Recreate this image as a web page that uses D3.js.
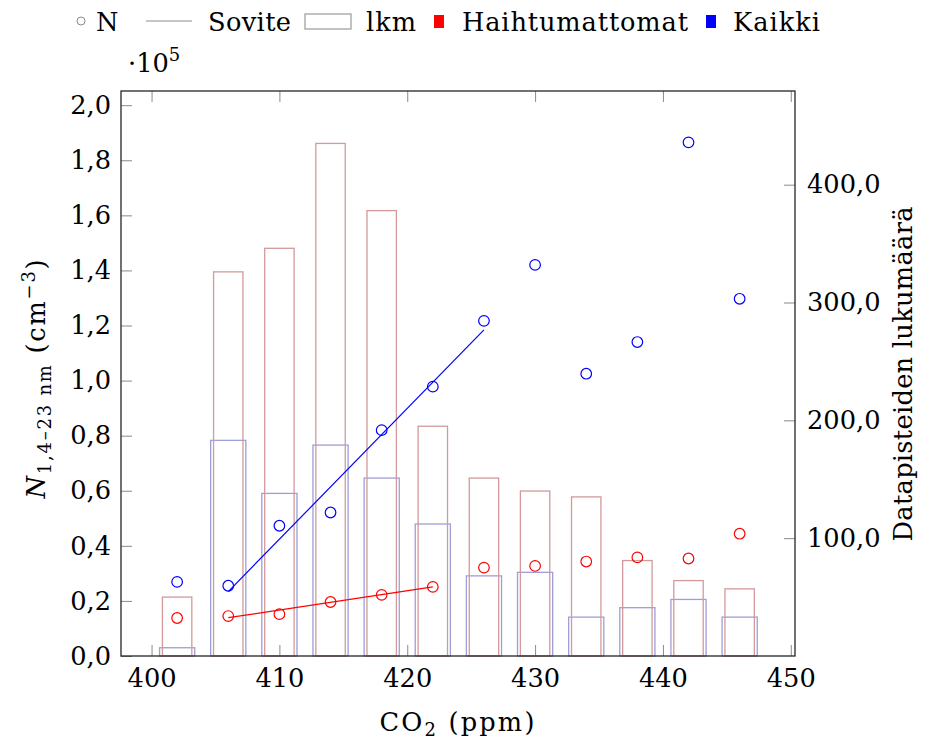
<!DOCTYPE html>
<html>
<head>
<meta charset="utf-8">
<script src="https://cdn.jsdelivr.net/npm/d3@7"></script>
<style>
  html, body { margin: 0; padding: 0; background: #fff; }
  svg { display: block; }
</style>
</head>
<body>
<svg id="chart" width="929" height="742"></svg>
<script>
// CO2 bin centres (ppm)
const co2 = [402, 406, 410, 414, 418, 422, 426, 430, 434, 438, 442, 446];

// Mean particle concentration N (cm^-3) per bin
const nKaikki = [26900, 25500, 47300, 52100, 82000, 97800, 121700, 142000, 102500, 114000, 186500, 129700];
const nHaihtumattomat = [13800, 14500, 15200, 19600, 22200, 25100, 32100, 32700, 34300, 35800, 35400, 44400];

// Number of data points per bin (lkm)
const lkmHaihtumattomat = [50, 326, 346, 435, 378, 195, 151, 140, 135, 81, 64, 57];
const lkmKaikki = [7, 183, 138, 179, 151, 112, 68, 71, 33, 41, 48, 33];

// Linear fits (end points)
const fitKaikkiX = [406, 426];
const fitKaikkiY = [23400, 118400];
const fitHaihtX = [406, 422];
const fitHaihtY = [13900, 25100];

// Tick values
const xTicks = [400, 410, 420, 430, 440, 450];
const yLeftTicks = [0, 20000, 40000, 60000, 80000, 100000, 120000, 140000, 160000, 180000, 200000];
const yRightTicks = [100, 200, 300, 400];

// Serif font stack; size chosen so that three digits are about 49 px wide
const fontCss = `"DejaVu Serif", "Noto Serif", "Liberation Serif", "Times New Roman", serif`;
const ctx0 = document.createElement("canvas").getContext("2d");
ctx0.font = `100px ${fontCss}`;
const digitW = ctx0.measureText("400").width / 100;
const FS = Math.min(31, 49 / digitW);     // main font size
const FSS = FS * 0.7;                      // sub/superscript size

const svg = d3.select("#chart").style("font-family", fontCss);
const L = 121, R = 795, T = 91, B = 656;

const x = d3.scaleLinear().domain([397.61, 450.33]).range([L, R]);
const yL = d3.scaleLinear().domain([0, 205150]).range([B, T]);
const yR = d3.scaleLinear().domain([0, 479.5]).range([B, T]);

const comma = v => v.replace(".", ",");
const fmt1 = d3.format(".1f");

const redBar = "#d29a9a", blueBar = "#9e9ed8";
const tickGrey = "#8a8a8a";

// Bars: number of data points per bin (right axis)
const gBars = svg.append("g");
const blueW = 2.75, redW = 2.3;
gBars.selectAll("rect.kaikki").data(co2).join("rect")
  .attr("class", "kaikki")
  .attr("x", (d) => x(d - blueW / 2))
  .attr("width", (d) => x(d + blueW / 2) - x(d - blueW / 2))
  .attr("y", (d, i) => yR(lkmKaikki[i]))
  .attr("height", (d, i) => yR(0) - yR(lkmKaikki[i]))
  .attr("fill", "none").attr("stroke", blueBar).attr("stroke-width", 1.3);
gBars.selectAll("rect.haiht").data(co2).join("rect")
  .attr("class", "haiht")
  .attr("x", (d) => x(d - redW / 2))
  .attr("width", (d) => x(d + redW / 2) - x(d - redW / 2))
  .attr("y", (d, i) => yR(lkmHaihtumattomat[i]))
  .attr("height", (d, i) => yR(0) - yR(lkmHaihtumattomat[i]))
  .attr("fill", "none").attr("stroke", redBar).attr("stroke-width", 1.3);

// Axes
const axL = d3.axisLeft(yL).tickValues(yLeftTicks).tickSizeInner(-11).tickSizeOuter(0)
  .tickPadding(10).tickFormat(d => comma(fmt1(d / 1e5)));
const axB = d3.axisBottom(x).tickValues(xTicks).tickSizeInner(-11).tickSizeOuter(0)
  .tickPadding(13).tickFormat(d3.format("d"));
const axT = d3.axisTop(x).tickValues(xTicks).tickSizeInner(-11).tickSizeOuter(0).tickFormat("");
const axR = d3.axisRight(yR).tickValues(yRightTicks).tickSizeInner(-11).tickSizeOuter(0)
  .tickPadding(12).tickFormat(d => comma(fmt1(d)));

function styleAxis(g) {
  g.attr("font-family", null).attr("font-size", null);
  g.select(".domain").remove();
  g.selectAll(".tick line").attr("stroke", tickGrey).attr("stroke-width", 1);
  g.selectAll(".tick text").attr("font-size", FS).attr("fill", "#000");
}
svg.append("g").attr("transform", `translate(${L},0)`).call(axL).call(styleAxis);
svg.append("g").attr("transform", `translate(0,${B})`).call(axB).call(styleAxis);
svg.append("g").attr("transform", `translate(0,${T})`).call(axT).call(styleAxis);
svg.append("g").attr("transform", `translate(${R},0)`).call(axR).call(styleAxis);

// Frame
svg.append("rect").attr("x", L).attr("y", T).attr("width", R - L).attr("height", B - T)
  .attr("fill", "none").attr("stroke", "#262626").attr("stroke-width", 1.3);

// Fit lines
const line = d3.line().x(d => x(d[0])).y(d => yL(d[1]));
svg.append("path").attr("d", line(fitKaikkiX.map((v, i) => [v, fitKaikkiY[i]])))
  .attr("fill", "none").attr("stroke", "#0000ff").attr("stroke-width", 1.2);
svg.append("path").attr("d", line(fitHaihtX.map((v, i) => [v, fitHaihtY[i]])))
  .attr("fill", "none").attr("stroke", "#ff0000").attr("stroke-width", 1.2);

// Points
svg.append("g").selectAll("circle").data(co2).join("circle")
  .attr("cx", d => x(d)).attr("cy", (d, i) => yL(nKaikki[i])).attr("r", 5.3)
  .attr("fill", "none").attr("stroke", "#0000ff").attr("stroke-width", 1.2);
svg.append("g").selectAll("circle").data(co2).join("circle")
  .attr("cx", d => x(d)).attr("cy", (d, i) => yL(nHaihtumattomat[i])).attr("r", 5.3)
  .attr("fill", "none").attr("stroke", "#ff0000").attr("stroke-width", 1.2);

// Spread a multi-part label so that it spans the given width
function fitWidth(textSel, target) {
  const node = textSel.node();
  const len = node.getComputedTextLength();
  const n = node.textContent.length;
  if (n > 1) textSel.attr("letter-spacing", Math.max(0, (target - len) / (n - 1)));
}

// Scale multiplier above left axis
const mult = svg.append("text").attr("x", 128).attr("y", 72).attr("font-size", FS);
mult.append("tspan").text("\u00b710");
mult.append("tspan").attr("font-size", FSS).attr("dy", -FS * 0.43).text("5");

// Axis titles
const xt = svg.append("text").attr("x", 458).attr("y", 731).attr("text-anchor", "middle")
  .attr("font-size", FS);
xt.append("tspan").text("CO");
xt.append("tspan").attr("font-size", FSS).attr("dy", FS * 0.2).text("2");
xt.append("tspan").attr("dy", -FS * 0.2).text(" (ppm)");
fitWidth(xt, 155);

const yt = svg.append("text").attr("transform", "translate(45,378) rotate(-90)")
  .attr("text-anchor", "middle").attr("font-size", FS);
yt.append("tspan").attr("font-style", "italic").text("N");
yt.append("tspan").attr("font-size", FSS).attr("dy", FS * 0.23).text("1,4\u201323 nm");
yt.append("tspan").attr("dy", -FS * 0.23).text(" (cm");
yt.append("tspan").attr("font-size", FSS).attr("dy", -FS * 0.4).text("\u22123");
yt.append("tspan").attr("dy", FS * 0.4).text(")");
fitWidth(yt, 239);

svg.append("text").attr("transform", "translate(912,374) rotate(-90)")
  .attr("text-anchor", "middle").attr("font-size", FS)
  .attr("textLength", 335).attr("lengthAdjust", "spacing")
  .text("Datapisteiden lukumäärä");

// Legend
const lg = svg.append("g");
const ly = 31, lc = 21;
lg.append("circle").attr("cx", 81).attr("cy", lc).attr("r", 4)
  .attr("fill", "none").attr("stroke", "#8c8c8c").attr("stroke-width", 1);
lg.append("text").attr("x", 96).attr("y", ly).attr("font-size", FS).text("N");
lg.append("line").attr("x1", 146).attr("x2", 192).attr("y1", lc).attr("y2", lc)
  .attr("stroke", "#8c8c8c").attr("stroke-width", 1);
lg.append("text").attr("x", 208).attr("y", ly).attr("font-size", FS)
  .attr("textLength", 83).attr("lengthAdjust", "spacing").text("Sovite");
lg.append("rect").attr("x", 305).attr("y", 14).attr("width", 46).attr("height", 15)
  .attr("fill", "#fff").attr("stroke", "#9a9a9a").attr("stroke-width", 1.2);
lg.append("text").attr("x", 366).attr("y", ly).attr("font-size", FS)
  .attr("textLength", 50).attr("lengthAdjust", "spacing").text("lkm");
lg.append("rect").attr("x", 434).attr("y", 15).attr("width", 10).attr("height", 13).attr("fill", "#ff0000");
lg.append("text").attr("x", 462).attr("y", ly).attr("font-size", FS)
  .attr("textLength", 226).attr("lengthAdjust", "spacing").text("Haihtumattomat");
lg.append("rect").attr("x", 706).attr("y", 15).attr("width", 10).attr("height", 13).attr("fill", "#0000ff");
lg.append("text").attr("x", 733).attr("y", ly).attr("font-size", FS)
  .attr("textLength", 87).attr("lengthAdjust", "spacing").text("Kaikki");
</script>
</body>
</html>
